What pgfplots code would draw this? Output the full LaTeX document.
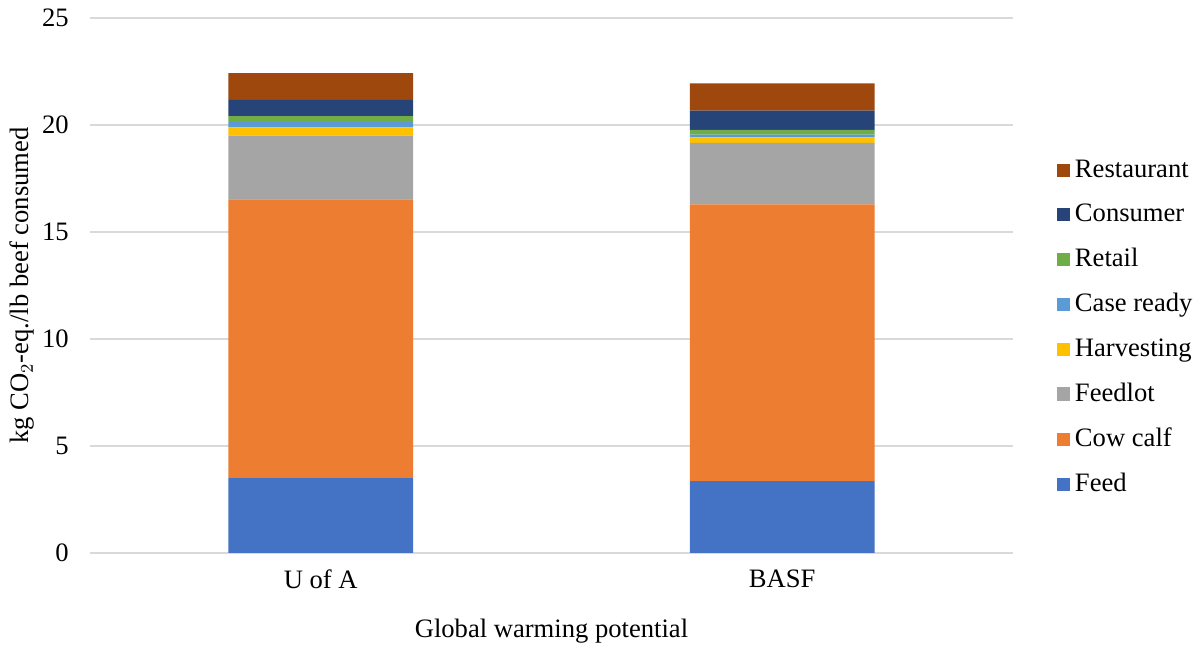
\documentclass[border=0pt]{standalone}
\usepackage{pgfplots}
\pgfplotsset{compat=1.18}
\usepackage{fontspec}
\setmainfont{Liberation Serif}
\definecolor{cFeed}{HTML}{4472C4}
\definecolor{cCow}{HTML}{ED7D31}
\definecolor{cLot}{HTML}{A5A5A5}
\definecolor{cHarv}{HTML}{FFC000}
\definecolor{cCase}{HTML}{5B9BD5}
\definecolor{cRet}{HTML}{70AD47}
\definecolor{cCons}{HTML}{264478}
\definecolor{cRest}{HTML}{9E480E}
\definecolor{gridc}{HTML}{D9D9D9}
\begin{document}
\fontsize{13.3bp}{16bp}\selectfont
\begin{tikzpicture}
\useasboundingbox (0,0) rectangle (599bp,324bp);
\begin{axis}[
  at={(45bp,47.5bp)}, anchor=south west,
  scale only axis, width=461.5bp, height=267.5bp,
  ybar stacked, bar width=0.4,
  xmin=-0.5, xmax=1.5, ymin=0, ymax=25,
  xtick={0,1}, xticklabels={U of A, BASF},
  ytick={0,5,10,15,20,25},
  major tick length=0pt,
  ymajorgrids, grid style={gridc, line width=0.75bp},
  axis x line*=bottom, axis y line*=left,
  x axis line style={gridc, line width=0.75bp, -},
  y axis line style={draw=none},
  /pgf/number format/assume math mode=true,
  ticklabel style={font=\fontsize{13.3bp}{16bp}\selectfont},
  yticklabel style={xshift=-6bp},
  xticklabel style={yshift=-4bp},
  xlabel={Global warming potential},
  ylabel={kg CO$_2$-eq./lb beef consumed},
  label style={font=\fontsize{13.3bp}{16bp}\selectfont},
  xlabel style={yshift=-6bp},
  ylabel style={at={(axis description cs:-0.0737,0.5)}, anchor=center},
  reverse legend,
  legend cell align=left,
  legend style={draw=none, at={(1.047,0.421)}, anchor=west, row sep=7.35bp,
    font=\fontsize{13.3bp}{16bp}\selectfont, inner sep=0pt,
    nodes={inner xsep=2.5bp}},
  legend image code/.code={\fill[#1] (0bp,-3.3bp) rectangle (6.6bp,3.3bp);},
]
\addplot[fill=cFeed, draw=none] coordinates {(0,3.50) (1,3.36)};
\addplot[fill=cCow, draw=none] coordinates {(0,13.03) (1,12.93)};
\addplot[fill=cLot, draw=none] coordinates {(0,2.97) (1,2.88)};
\addplot[fill=cHarv, draw=none] coordinates {(0,0.39) (1,0.25)};
\addplot[fill=cCase, draw=none] coordinates {(0,0.24) (1,0.13)};
\addplot[fill=cRet, draw=none] coordinates {(0,0.29) (1,0.22)};
\addplot[fill=cCons, draw=none] coordinates {(0,0.75) (1,0.90)};
\addplot[fill=cRest, draw=none] coordinates {(0,1.25) (1,1.28)};
\legend{Feed, Cow calf, Feedlot, Harvesting, Case ready, Retail, Consumer, Restaurant}
\end{axis}
\end{tikzpicture}
\end{document}
